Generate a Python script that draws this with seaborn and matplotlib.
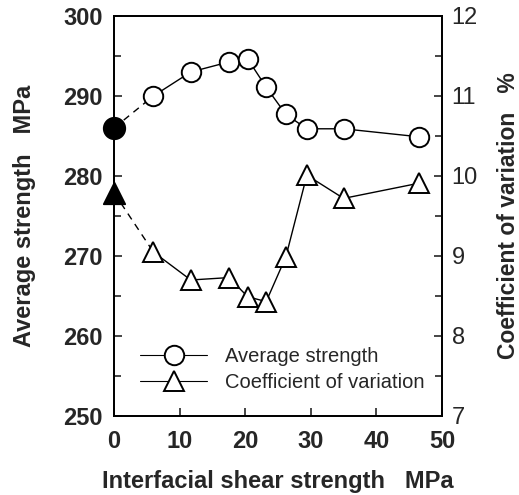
import matplotlib
matplotlib.use("Agg")
import matplotlib.pyplot as plt
import seaborn as sns
import pandas as pd
from matplotlib.lines import Line2D
from matplotlib.ticker import MultipleLocator

sns.set_style("ticks")
plt.rcParams['font.family'] = ['Liberation Sans', 'DejaVu Sans']

# Data
shear = [0, 6, 11.7, 17.5, 20.4, 23.2, 26.2, 29.4, 35, 46.5]
avg_strength = [286, 290.0, 293.0, 294.25, 294.6, 291.1, 287.7, 285.9, 285.9, 284.9]
cv = [9.79, 9.05, 8.70, 8.73, 8.49, 8.43, 8.99, 10.01, 9.72, 9.91]

df = pd.DataFrame({"shear": shear, "strength": avg_strength, "cv": cv})

fig = plt.figure(figsize=(5.19, 4.95), dpi=100)
ax = fig.add_axes([0.2197, 0.1596, 0.6319, 0.8081])
ax2 = ax.twinx()

lw = 1.0
# Average strength: dashed from untreated (x=0) to first point, solid after
sns.lineplot(data=df.iloc[:2], x="shear", y="strength", ax=ax, color="black",
             linewidth=lw, linestyle=(0, (5, 4)), legend=False)
sns.lineplot(data=df.iloc[1:], x="shear", y="strength", ax=ax, color="black",
             linewidth=lw, marker="o", markersize=14, markerfacecolor="white",
             markeredgecolor="black", markeredgewidth=1.4, legend=False)
sns.scatterplot(data=df.iloc[:1], x="shear", y="strength", ax=ax, color="black",
                s=240, marker="o", edgecolor="black", zorder=5, clip_on=False, legend=False)

# Coefficient of variation
sns.lineplot(data=df.iloc[:2], x="shear", y="cv", ax=ax2, color="black",
             linewidth=lw, linestyle=(0, (5, 4)), legend=False)
sns.lineplot(data=df.iloc[1:], x="shear", y="cv", ax=ax2, color="black",
             linewidth=lw, marker="^", markersize=15, markerfacecolor="white",
             markeredgecolor="black", markeredgewidth=1.4, legend=False)
sns.scatterplot(data=df.iloc[:1], x="shear", y="cv", ax=ax2, color="black",
                s=240, marker="^", edgecolor="black", zorder=5, clip_on=False, legend=False)

ax.set_xlim(0, 50)
ax.set_ylim(250, 300)
ax2.set_ylim(7, 12)

ax.xaxis.set_major_locator(MultipleLocator(10))
ax.yaxis.set_major_locator(MultipleLocator(10))
ax.yaxis.set_minor_locator(MultipleLocator(5))
ax2.yaxis.set_major_locator(MultipleLocator(1))
ax2.yaxis.set_minor_locator(MultipleLocator(0.5))

for a in (ax, ax2):
    for s in a.spines.values():
        s.set_visible(True)
        s.set_linewidth(1.3)
        s.set_color("black")

ax.tick_params(axis="x", direction="in", length=6, width=1.2, labelsize=17, pad=10)
ax.tick_params(axis="y", which="major", direction="in", length=6, width=1.2, labelsize=17, pad=8)
ax.tick_params(axis="y", which="minor", direction="in", length=5, width=1.2)
ax.tick_params(top=False)
ax2.tick_params(axis="y", which="major", direction="in", length=6, width=1.2, labelsize=17, pad=7)
ax2.tick_params(axis="y", which="minor", direction="in", length=5, width=1.2)

for lab in ax.get_xticklabels() + ax.get_yticklabels():
    lab.set_fontweight("bold")

ax.set_xlabel("Interfacial shear strength   MPa", fontsize=17, fontweight="bold", labelpad=12)
ax.set_ylabel("Average strength   MPa", fontsize=17, fontweight="bold", labelpad=20)
ax2.set_ylabel("Coefficient of variation   %", fontsize=16.5, fontweight="bold", labelpad=14)

handles = [
    Line2D([], [], color="black", linewidth=0.8, marker="o", markersize=14,
           markerfacecolor="white", markeredgecolor="black", markeredgewidth=1.4),
    Line2D([], [], color="black", linewidth=0.8, marker="^", markersize=15,
           markerfacecolor="white", markeredgecolor="black", markeredgewidth=1.4),
]
ax.legend(handles, ["Average strength", "Coefficient of variation"], loc="lower left",
          bbox_to_anchor=(0.025, 0.015), frameon=False, fontsize=14.5, handlelength=3.3,
          handletextpad=0.9, labelspacing=0.35)

fig.savefig("out.png", dpi=100)
